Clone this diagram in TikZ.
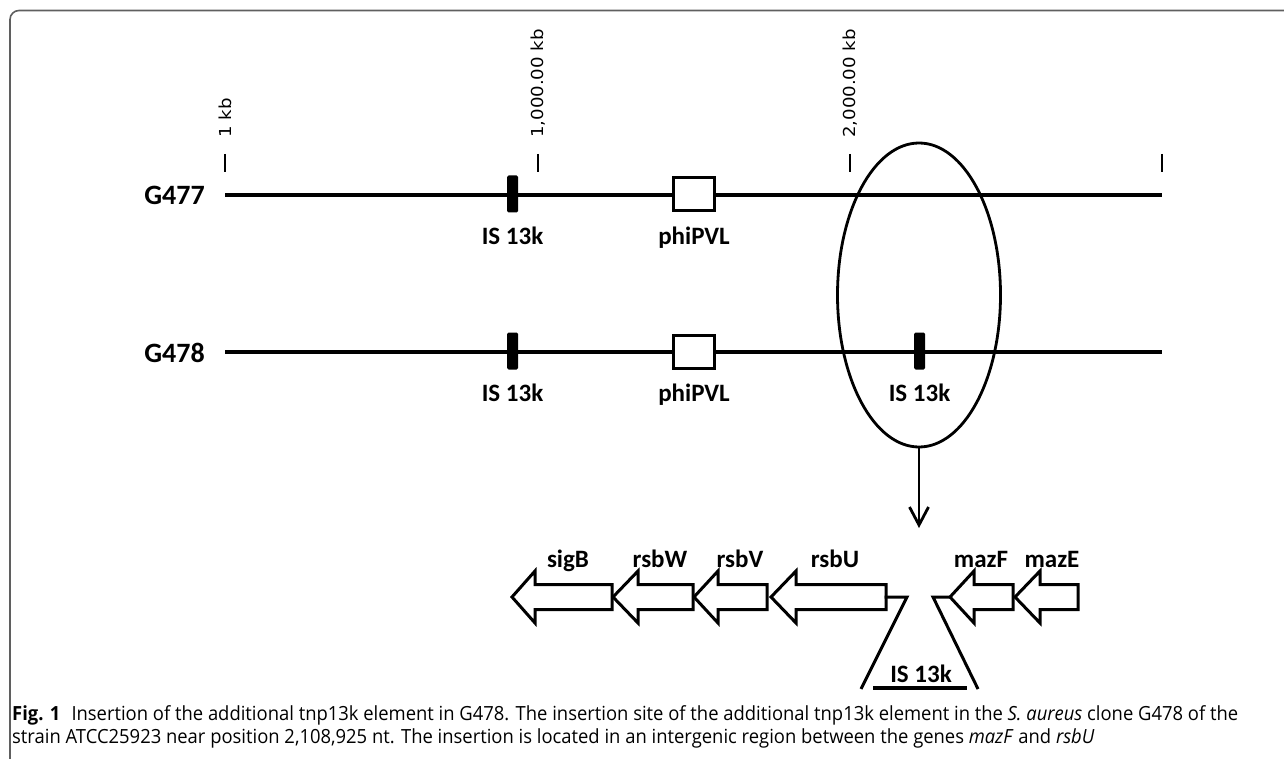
\documentclass[tikz,border=0pt]{standalone}
\usepackage{fontspec}
\setmainfont{Open Sans}
\newfontfamily\labfont{Carlito}
\newfontfamily\tickfont{DejaVu Sans}
\usetikzlibrary{arrows.meta,shapes.geometric}
\newlength\capwd
\newcommand\capone{\textbf{Fig. 1}\hspace{0.6em}Insertion of the additional tnp13k element in G478. The insertion site of the additional tnp13k element in the \textit{S. aureus} clone G478 of the}
\newcommand\captwo{strain ATCC25923 near position 2,108,925 nt. The insertion is located in an intergenic region between the genes \textit{mazF} and \textit{rsbU}}
\newcommand\capfont{\fontsize{19.5}{23}\selectfont}
\definecolor{framegray}{RGB}{95,95,95}
\begin{document}
\settowidth\capwd{\capfont\capone}%
\pgfmathsetmacro\capsx{1226/(\capwd/1pt)}%
\begin{tikzpicture}[x=1pt,y=-1pt,
  chrom/.style={line width=4.5pt},
  tickmark/.style={line width=2.6pt},
  isblk/.style={fill=black, rounded corners=1.5pt, minimum width=11pt, minimum height=37pt, inner sep=0pt},
  phibox/.style={draw, line width=3pt, minimum width=41pt, minimum height=33pt, inner sep=0pt, fill=white},
  lbl/.style={font=\labfont\bfseries\fontsize{25}{30}\selectfont, inner sep=0pt, anchor=base},
  glbl/.style={font=\labfont\bfseries\fontsize{28}{32}\selectfont, inner sep=0pt, anchor=base east},
  ticklbl/.style={font=\tickfont\fontsize{16.5}{20}\selectfont, inner sep=0pt, anchor=west, rotate=90},
  oval/.style={draw, ellipse, line width=2.8pt, minimum width=163pt, minimum height=304pt, inner sep=0pt},
  gene/.style={draw, line width=3pt, fill=white, line join=miter},
  conn/.style={line width=3pt},
  framestyle/.style={draw=framegray, line width=1.6pt, rounded corners=9pt}
]
\useasboundingbox (0,0) rectangle (1284,759);

% frame
\draw[framestyle] (10,762) -- (10,10.5) -- (1290,10.5);

% tick marks and labels
\foreach \xx/\tt [count=\i] in {225/1 kb,538/{1,000.00 kb},850/{2,000.00 kb}}{
  \draw[tickmark] (\xx,154) -- (\xx,172);
  \node[ticklbl] (tl\i) at (\xx,138) {\scalebox{1.1}[1]{\tt}};
}
\draw[tickmark] (1162,154) -- (1162,172);

% chromosomes
\coordinate (a1) at (225,195);
\coordinate (a2) at (1162,195);
\coordinate (b1) at (225,352);
\coordinate (b2) at (1162,352);
\draw[chrom] (a1) -- (a2);
\draw[chrom] (b1) -- (b2);
\node[glbl] (g477) at (205,205) {G477};
\node[glbl] (g478) at (205,362) {G478};

% G477 features
\node[isblk] (isa) at (512.5,194) {};
\node[phibox] (phia) at (694,194.5) {};
\node[lbl] (isalab) at (512.5,244) {IS 13k};
\node[lbl] (phialab) at (694,244) {phiPVL};

% G478 features
\node[isblk] (isb) at (512.5,351) {};
\node[phibox] (phib) at (694,351.5) {};
\node[isblk] (isc) at (919.5,351) {};
\node[lbl] (isblab) at (512.5,401) {IS 13k};
\node[lbl] (phiblab) at (694,401) {phiPVL};
\node[lbl] (isclab) at (919.5,401) {IS 13k};

% ellipse and arrow
\node[oval] (ell) at (919,295) {};
\coordinate (tip) at (919,528);
\draw[line width=2.8pt, -{Straight Barb[length=18pt,width=19pt,line width=2.8pt]}] (ell.south) -- (tip);

% genes (tip x, base x, right x)
\newcommand\genearr[3]{\draw[gene] (#1,597) -- (#2,571) -- (#2,584.5) -- (#3,584.5) -- (#3,609.5) -- (#2,609.5) -- (#2,623) -- cycle;}
\genearr{512}{535}{612}
\genearr{613}{638}{693}
\genearr{694}{718}{767}
\genearr{771}{796}{886}
\genearr{950}{974}{1013}
\genearr{1015}{1040}{1078}
\node[lbl] (sigb) at (568,567) {sigB};
\node[lbl] (rsbw) at (660,567) {rsbW};
\node[lbl] (rsbv) at (740,567) {rsbV};
\node[lbl] (rsbu) at (835,567) {rsbU};
\node[lbl] (mazf) at (981,567) {mazF};
\node[lbl] (maze) at (1052,567) {mazE};

% insertion
\coordinate (l0) at (884.5,597);
\coordinate (l1) at (907,597);
\coordinate (l2) at (861,689);
\coordinate (r0) at (951.5,597);
\coordinate (r1) at (933,597);
\coordinate (r2) at (978,689);
\draw[conn, line join=miter] (l0) -- (l1) -- (l2);
\draw[conn, line join=miter] (r0) -- (r1) -- (r2);
\coordinate (u1) at (873,688);
\coordinate (u2) at (967,688);
\draw[line width=4pt] (u1) -- (u2);
\node[lbl] (insl) at (921,682) {IS 13k};

% caption
\node[anchor=base west, inner sep=0pt] (cap1) at (12,720) {\capfont\scalebox{\capsx}[1]{\capone}};
\node[anchor=base west, inner sep=0pt] (cap2) at (12,743) {\capfont\scalebox{\capsx}[1]{\captwo}};
\end{tikzpicture}
\end{document}
